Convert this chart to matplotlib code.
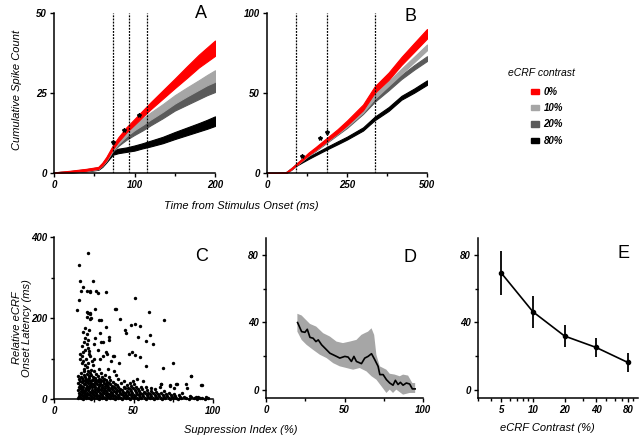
import matplotlib
matplotlib.use("Agg")
import matplotlib.pyplot as plt
import numpy as np
from matplotlib.patches import Patch
from matplotlib.ticker import FixedLocator, FixedFormatter, LogLocator, NullFormatter

# ---- panel A: cumulative spike count, first 200 ms ----
a_time = [0, 20, 40, 55, 60, 65, 73, 80, 90, 100, 110, 120, 135, 150, 165, 180, 190, 200]
a_mean_0 = [0, 0.5, 1.0, 1.6, 2.8, 4.5, 8.0, 10.5, 13.5, 16, 18.5, 21, 24.5, 28, 31.5, 35, 37, 39]
a_half_0 = [0.2, 0.2, 0.3, 0.3, 0.4, 0.5, 0.6, 0.7, 0.8, 0.9, 1.0, 1.1, 1.3, 1.5, 1.8, 2.0, 2.2, 2.4]
a_mean_10 = [0, 0.4, 0.9, 1.5, 2.7, 4.3, 7.6, 9.8, 12.3, 14.3, 16, 17.8, 20.3, 23, 25.3, 27.5, 29, 30.3]
a_half_10 = [0.2, 0.2, 0.3, 0.3, 0.4, 0.5, 0.6, 0.7, 0.8, 0.9, 1.0, 1.1, 1.2, 1.3, 1.4, 1.5, 1.6, 1.8]
a_mean_20 = [0, 0.4, 0.9, 1.5, 2.6, 4.2, 7.3, 9.2, 11.2, 12.8, 14.3, 16, 18.4, 21, 23, 25, 26.3, 27.5]
a_half_20 = [0.2, 0.2, 0.3, 0.3, 0.4, 0.5, 0.6, 0.7, 0.8, 0.9, 1.0, 1.1, 1.3, 1.5, 1.7, 1.9, 2.0, 2.2]
a_mean_80 = [0, 0.3, 0.8, 1.3, 2.3, 3.8, 6.3, 6.9, 7.3, 7.8, 8.5, 9.2, 10.3, 11.7, 13, 14.3, 15.2, 16.2]
a_half_80 = [0.2, 0.2, 0.3, 0.3, 0.4, 0.5, 0.6, 0.7, 0.7, 0.8, 0.8, 0.9, 1.0, 1.1, 1.2, 1.3, 1.4, 1.5]
a_dashes = [73, 93, 115]
a_star_t = [73, 87, 106]
a_star_y = [9.7, 13.4, 18.1]

# ---- panel B: cumulative spike count, 500 ms ----
b_time = [0, 30, 60, 75, 90, 110, 130, 150, 188, 220, 250, 300, 336, 380, 420, 460, 500]
b_mean_0 = [0, 0, 0.3, 2.5, 5, 8.5, 12, 15, 21, 26, 31.3, 41, 52, 60.5, 70, 78.5, 87]
b_half_0 = [0.3, 0.3, 0.3, 0.4, 0.5, 0.6, 0.8, 0.9, 1.1, 1.3, 1.5, 1.8, 2.0, 2.3, 2.5, 2.8, 3.0]
b_mean_10 = [0, 0, 0.3, 2.5, 5, 8.3, 11.7, 14.6, 20.4, 25.3, 30, 39, 47.7, 56, 63.5, 71, 78.5]
b_half_10 = [0.3, 0.3, 0.3, 0.4, 0.5, 0.6, 0.7, 0.8, 0.9, 1.0, 1.1, 1.3, 1.4, 1.5, 1.6, 1.7, 1.8]
b_mean_20 = [0, 0, 0.3, 2.5, 5, 8.2, 11.5, 14.3, 20, 24.8, 29.2, 38, 45.6, 53, 60, 66, 71.5]
b_half_20 = [0.3, 0.3, 0.3, 0.4, 0.5, 0.6, 0.7, 0.8, 0.9, 1.0, 1.0, 1.1, 1.2, 1.3, 1.3, 1.4, 1.5]
b_mean_80 = [0, 0, 0.3, 2.3, 4.8, 7.2, 9.5, 11.6, 15.6, 18.8, 21.8, 27.5, 34, 40, 47, 51.5, 56.5]
b_half_80 = [0.3, 0.3, 0.3, 0.4, 0.5, 0.6, 0.7, 0.7, 0.8, 0.9, 0.9, 1.0, 1.1, 1.2, 1.2, 1.3, 1.4]
b_dashes = [90, 188, 336]
b_star_t = [108, 166, 186]
b_star_y = [10.6, 21.7, 25.8]

contrast_labels = ['0%', '10%', '20%', '80%']
contrast_colors = ['#ff0000', '#a6a6a6', '#5a5a5a', '#000000']

# ---- panel C: suppression index vs relative onset latency ----
# one line of scatter_si matches the same line of scatter_lat
scatter_si = [
    15.2, 15.5, 15.8, 15.3, 15.6, 15.1, 15.9, 15.4,
    16.1, 16.4, 16.8, 16.2, 16.6, 16.3, 16.9, 16.5, 16.2,
    17.0, 17.3, 17.6, 17.9, 17.2, 17.5, 17.8, 17.1, 17.4, 17.7, 17.3,
    18.2, 18.5, 18.8, 18.1, 18.4, 18.7, 18.3, 18.6, 18.9, 18.2, 18.5, 18.8, 18.4,
    19.0, 19.3, 19.6, 19.9, 19.2, 19.5, 19.8, 19.1, 19.4, 19.7, 19.3, 19.6,
    20.1, 20.4, 20.7, 20.2, 20.5, 20.8, 20.3, 20.6, 20.9, 20.2, 20.5, 20.8,
    21.0, 21.3, 21.6, 21.9, 21.2, 21.5, 21.8, 21.1, 21.4, 21.7, 21.3, 21.6, 21.9, 21.4,
    22.1, 22.4, 22.7, 22.2, 22.5, 22.8, 22.3, 22.6, 22.9, 22.2, 22.5, 22.8,
    23.0, 23.3, 23.6, 23.9, 23.2, 23.5, 23.8, 23.1, 23.4, 23.7, 23.3,
    24.1, 24.4, 24.7, 24.2, 24.5, 24.8, 24.3, 24.6, 24.9,
    25.0, 25.3, 25.6, 25.9, 25.2, 25.5, 25.8, 25.1, 25.4, 25.7,
    26.2, 26.5, 26.8, 26.1, 26.4, 26.7, 26.3,
    27.0, 27.3, 27.6, 27.9, 27.2, 27.5, 27.8, 27.4,
    28.1, 28.4, 28.7, 28.2, 28.5, 28.8, 28.3, 28.6, 28.9,
    29.0, 29.3, 29.6, 29.9, 29.2, 29.5, 29.8, 29.4,
    30.1, 30.4, 30.7, 30.2, 30.5, 30.8, 30.3, 30.6,
    31.0, 31.3, 31.6, 31.9, 31.2, 31.5,
    32.1, 32.4, 32.7, 32.2, 32.5, 32.8, 32.3, 32.6,
    33.0, 33.3, 33.6, 33.9, 33.2, 33.5, 33.8,
    34.1, 34.4, 34.7, 34.2, 34.5, 34.8, 34.3,
    35.0, 35.3, 35.6, 35.9, 35.2, 35.5, 35.8,
    36.1, 36.4, 36.7, 36.2,
    37.0, 37.3, 37.6, 37.9, 37.2, 37.5, 37.8,
    38.1, 38.4, 38.7, 38.2, 38.5,
    39.0, 39.3, 39.6, 39.9, 39.2,
    40.1, 40.4, 40.7, 40.2, 40.5, 40.8,
    41.0, 41.3, 41.6,
    42.1, 42.4, 42.7, 42.2,
    43.0, 43.3, 43.6, 43.9,
    44.1, 44.4, 44.7, 44.2,
    45.0, 45.3, 45.6, 45.9,
    46.1, 46.4, 46.7,
    47.0, 47.3, 47.6, 47.9,
    48.1, 48.4, 48.7, 48.2,
    49.0, 49.3, 49.6, 49.9,
    50.1, 50.4, 50.7, 50.2,
    51.0, 51.3, 51.6,
    52.1, 52.4, 52.7, 52.2,
    53.0, 53.3, 53.6,
    54.1, 54.4, 54.7,
    55.0, 55.3, 55.6, 55.9,
    56.1, 56.4,
    57.0, 57.3, 57.6,
    58.1, 58.4, 58.7,
    59.0, 59.3,
    60.1, 60.4, 60.7,
    61.0, 61.3,
    62.1, 62.4,
    63.0, 63.3, 63.6,
    64.1, 64.4,
    65.0, 65.3,
    66.1, 66.4,
    67.0, 67.3, 67.6,
    68.1, 68.4,
    69.0, 69.3,
    70.1, 70.4,
    71.0,
    72.1, 72.4, 72.7,
    73.0, 73.3,
    74.1,
    75.0, 75.3, 75.6,
    76.1,
    77.0, 77.3,
    78.1, 78.4,
    79.0,
    80.1, 80.4,
    82.0, 83.1, 83.4,
    85.0, 85.3, 86.1, 86.4,
    88.0, 89.1, 90.0, 90.3,
    92.1, 92.4, 93.0, 95.1, 95.4, 97.0,
    15.5, 16.6, 24.5, 17.2, 18.2, 20.8, 22.4, 26.6, 27.7, 32.5, 21.4,
    15.7, 14.5, 20.8, 22.4, 26.0, 20.8, 22.9, 28.3, 29.8, 38.2, 38.8,
    41.3, 50.7, 59.7, 69.0, 32.9, 44.4, 45.1, 48.6, 50.7, 53.9, 60.2,
    62.3, 57.7, 52.8, 28.7, 30.8, 34.6, 74.8, 68.6, 58.1, 50.7, 53.9,
    47.2, 49.3, 33.3, 37.1, 86.0, 93.3, 82.8, 77.0, 67.5, 72.7,
]
scatter_lat = [
    2, 8, 15, 22, 30, 40, 50, 58,
    5, 12, 20, 28, 35, 45, 55, 100, 110,
    3, 10, 18, 25, 33, 42, 52, 65, 90, 105, 130,
    1, 7, 14, 21, 30, 38, 48, 60, 75, 95, 115, 140, 165,
    4, 11, 19, 27, 36, 44, 55, 70, 85, 120, 150, 175,
    2, 9, 16, 24, 32, 41, 50, 62, 80, 100, 135, 160,
    6, 13, 22, 30, 39, 47, 58, 68, 90, 110, 125, 145, 170, 212,
    3, 10, 18, 26, 35, 45, 52, 65, 105, 118, 210, 265,
    1, 8, 15, 23, 31, 40, 48, 60, 72, 95, 200,
    5, 12, 20, 29, 37, 46, 55, 85, 135,
    2, 9, 17, 25, 34, 43, 52, 70, 100, 150,
    7, 14, 22, 30, 40, 48, 62,
    3, 11, 19, 27, 36, 45, 58, 120,
    1, 8, 16, 24, 33, 42, 50, 75, 99,
    5, 13, 21, 29, 38, 47, 65, 140,
    2, 10, 18, 26, 35, 44, 55, 105,
    6, 14, 23, 31, 40, 50,
    3, 11, 19, 28, 37, 46, 60, 115,
    1, 8, 16, 25, 34, 43, 75,
    5, 13, 22, 30, 40, 55, 145,
    2, 10, 18, 27, 36, 48, 95,
    7, 15, 24, 33,
    3, 11, 20, 29, 42, 70, 105,
    1, 8, 17, 26, 38,
    5, 14, 23, 35, 60,
    2, 10, 19, 30, 50, 90,
    6, 15, 25,
    3, 12, 22, 40,
    1, 9, 18, 30,
    5, 14, 26, 45,
    2, 11, 20, 35,
    7, 17, 28,
    3, 12, 24, 40,
    1, 9, 20, 32,
    5, 15, 27, 45,
    2, 11, 22, 38,
    7, 18, 30,
    3, 13, 25, 50,
    1, 9, 20,
    5, 15, 30,
    2, 12, 25, 45,
    7, 18,
    3, 14, 30,
    1, 10, 22,
    5, 16,
    2, 12, 28,
    7, 20,
    3, 14,
    1, 10, 25,
    5, 18,
    2, 12,
    7, 30,
    3, 15, 38,
    1, 10,
    5, 20,
    2, 12,
    7,
    3, 15, 34,
    1, 9,
    5,
    2, 12, 28,
    7,
    3, 38,
    1, 10,
    5,
    2, 15,
    6, 3, 28,
    1, 8, 4, 57,
    2, 6, 1, 4,
    3, 35, 2, 1, 5, 3,
    332, 291, 292, 266, 277, 266, 266, 266, 262, 264, 360,
    244, 219, 215, 213, 221, 203, 197, 196, 195, 223, 223,
    197, 250, 215, 195, 178, 170, 162, 182, 185, 180, 158,
    137, 144, 154, 162, 141, 154, 88, 76, 81, 108, 104,
    110, 116, 112, 106, 57, 35, 38, 38, 38, 33,
]

# ---- panel D: running latency vs suppression index ----
d_si = [20.1, 22.7, 24.8, 26.3, 28, 30, 31.8, 33.3, 35.4, 38.6, 40.7, 44.9, 47, 50.2,
        52.3, 54.4, 56, 57.6, 60.8, 62.9, 65, 67.2, 69.3, 71.4, 72.5, 74.6, 76.7,
        78.8, 80.9, 82.4, 84.1, 85.6, 87.3, 89.4, 91.5, 93.2, 95]
d_lat = [39.8, 34.4, 34, 35.8, 31, 30.5, 28.5, 29.5, 26.6, 23.6, 21.6, 19.7, 18.7, 19.7,
         19.3, 16.7, 19.7, 16.7, 15.4, 18.7, 19.7, 21.3, 17.7, 13.8, 8.9, 8.9, 5.9,
         3.9, 2.6, 5.5, 3, 4.3, 2.6, 3.9, 3.3, 0.4, 0.4]
d_up_si = [20, 22.7, 24.8, 28, 32, 36.4, 40.7, 44.9, 49, 53.4, 57.6, 60.8, 62.9, 65,
           67.2, 68.9, 70.3, 72.5, 74.6, 76.7, 78.8, 82, 85.2, 87.3, 90.5, 93.2, 95]
d_up = [45, 44, 42, 39, 37.4, 33.5, 31.5, 28.5, 27.6, 28.5, 29.5, 32.5, 33.5, 34.4,
        36.4, 32.5, 20.7, 13.8, 12.8, 11.8, 9.4, 8.9, 7.9, 8.9, 8.3, 3.9, 3.9]
d_lo_si = [20, 22.7, 25.8, 30, 34.3, 38.6, 42.8, 47, 51.3, 55.5, 59.7, 64, 67.2, 70.3,
           73.5, 76.7, 78.8, 80.9, 83, 87.3, 91.5, 95]
d_lo = [34.4, 29.5, 26.6, 23.6, 20.7, 18.7, 15.7, 13.8, 12.8, 11.8, 12.8, 10.8, 7.9, 5.9,
        2, -2, 0, -2, 0, -3, -2, -2]

# ---- panel E: latency vs eCRF contrast ----
e_contrast = [5, 10, 20, 40, 80]
e_latency = [69.2, 46.2, 31.8, 25.0, 16.1]
e_err = [13.0, 9.5, 6.6, 5.4, 5.4]

plt.rcParams['font.family'] = ['Liberation Sans', 'DejaVu Sans']
plt.rcParams['axes.linewidth'] = 1.1


def style_axes(ax):
    ax.spines['top'].set_visible(False)
    ax.spines['right'].set_visible(False)
    ax.tick_params(which='major', direction='out', length=3, width=1, labelsize=7, pad=2)
    ax.tick_params(which='minor', direction='out', length=2.5, width=1)
    for lbl in ax.get_xticklabels() + ax.get_yticklabels():
        lbl.set_fontweight('bold')
        lbl.set_fontstyle('italic')


def letter(ax, s, x, y):
    ax.text(x, y, s, transform=ax.transAxes, ha='center', va='center', fontsize=13)


def bands(ax, t, means, halves):
    # drawn back to front: 80%, 20%, 10%, 0%
    t = np.array(t)
    for m, h, c in list(zip(means, halves, contrast_colors))[::-1]:
        m = np.array(m)
        h = np.array(h)
        ax.fill_between(t, m - h, m + h, color=c, lw=0.8, edgecolor=c)


fig = plt.figure(figsize=(6.4, 4.37), dpi=100)

# panel A
axA = fig.add_axes([54 / 640, 1 - 173 / 437, 161 / 640, 160 / 437])
bands(axA, a_time, [a_mean_0, a_mean_10, a_mean_20, a_mean_80],
      [a_half_0, a_half_10, a_half_20, a_half_80])
for x in a_dashes:
    axA.axvline(x, color='black', ls=(0, (1.5, 1)), lw=0.9)
axA.plot(a_star_t, a_star_y, ls='none', marker='*', ms=3, color='black')
axA.set_xlim(0, 200)
axA.set_ylim(0, 50)
axA.set_xticks([0, 100, 200])
axA.set_xticks([50, 150], minor=True)
axA.set_yticks([0, 25, 50])
style_axes(axA)
letter(axA, 'A', 0.913, 1.0)
fig.text(17 / 640, 1 - 90 / 437, 'Cumulative Spike Count', fontsize=8, style='italic',
         rotation=90, ha='center', va='center')

# panel B
axB = fig.add_axes([267 / 640, 1 - 173 / 437, 160 / 640, 160 / 437])
bands(axB, b_time, [b_mean_0, b_mean_10, b_mean_20, b_mean_80],
      [b_half_0, b_half_10, b_half_20, b_half_80])
for x in b_dashes:
    axB.axvline(x, color='black', ls=(0, (1.5, 1)), lw=0.9)
axB.plot(b_star_t, b_star_y, ls='none', marker='*', ms=3, color='black')
axB.set_xlim(0, 500)
axB.set_ylim(0, 100)
axB.set_xticks([0, 250, 500])
axB.set_xticks([125, 375], minor=True)
axB.set_yticks([0, 50, 100])
style_axes(axB)
letter(axB, 'B', 0.894, 0.98)

fig.text(241 / 640, 1 - 206 / 437, 'Time from Stimulus Onset (ms)', fontsize=8,
         style='italic', ha='center', va='center')

# legend
fig.text(508 / 640, 1 - 73 / 437, 'eCRF contrast', fontsize=7.5, style='italic',
         ha='left', va='center')
handles = [Patch(facecolor=c, edgecolor=c) for c in contrast_colors]
leg = fig.legend(handles, contrast_labels, loc='upper left',
                 bbox_to_anchor=(524 / 640, 1 - 80 / 437), frameon=False,
                 fontsize=7, handlelength=0.8, handleheight=0.5, labelspacing=0.65,
                 handletextpad=0.5, borderpad=0.2)
for t in leg.get_texts():
    t.set_fontweight('bold')
    t.set_fontstyle('italic')

# panel C
axC = fig.add_axes([54 / 640, 1 - 399 / 437, 159 / 640, 162 / 437])
axC.scatter(scatter_si, scatter_lat, s=6, color='black', lw=0, clip_on=False, zorder=3)
axC.set_xlim(0, 100)
axC.set_ylim(0, 400)
axC.set_xticks([0, 50, 100])
axC.set_xticks([25, 75], minor=True)
axC.set_yticks([0, 200, 400])
axC.set_yticks([100, 300], minor=True)
style_axes(axC)
letter(axC, 'C', 0.93, 0.877)
fig.text(22 / 640, 1 - 328 / 437, 'Relative eCRF\nOnset Latency (ms)', fontsize=8,
         style='italic', rotation=90, ha='center', va='center', linespacing=1.1)

fig.text(241 / 640, 1 - 430 / 437, 'Suppression Index (%)', fontsize=8,
         style='italic', ha='center', va='center')

# panel D
axD = fig.add_axes([266 / 640, 1 - 398 / 437, 157 / 640, 160 / 437])
band_x = np.concatenate([d_up_si, d_lo_si[::-1]])
band_y = np.concatenate([d_up, d_lo[::-1]])
axD.fill(band_x, band_y, color='#a6a6a6', lw=0)
axD.plot(d_si, d_lat, color='black', lw=1.2)
axD.set_xlim(0, 100)
axD.set_ylim(-5, 90)
axD.set_xticks([0, 50, 100])
axD.set_xticks([25, 75], minor=True)
axD.set_yticks([0, 40, 80])
axD.set_yticks([20, 60], minor=True)
style_axes(axD)
letter(axD, 'D', 0.917, 0.88)

# panel E
axE = fig.add_axes([478 / 640, 1 - 398 / 437, 160 / 640, 160 / 437])
axE.errorbar(e_contrast, e_latency, yerr=e_err, color='black', lw=1.2,
             marker='o', ms=3, elinewidth=1.3, capsize=0)
axE.set_xscale('log')
axE.set_xlim(3, 100)
axE.set_ylim(-5, 90)
axE.xaxis.set_major_locator(FixedLocator(e_contrast))
axE.xaxis.set_major_formatter(FixedFormatter([str(c) for c in e_contrast]))
axE.xaxis.set_minor_locator(LogLocator(base=10, subs=np.arange(2, 10)))
axE.xaxis.set_minor_formatter(NullFormatter())
axE.set_yticks([0, 40, 80])
axE.set_yticks([20, 60], minor=True)
style_axes(axE)
letter(axE, 'E', 0.907, 0.906)
fig.text(547 / 640, 1 - 428 / 437, 'eCRF Contrast (%)', fontsize=8, style='italic',
         ha='center', va='center')

fig.savefig('out.png', dpi=100)
